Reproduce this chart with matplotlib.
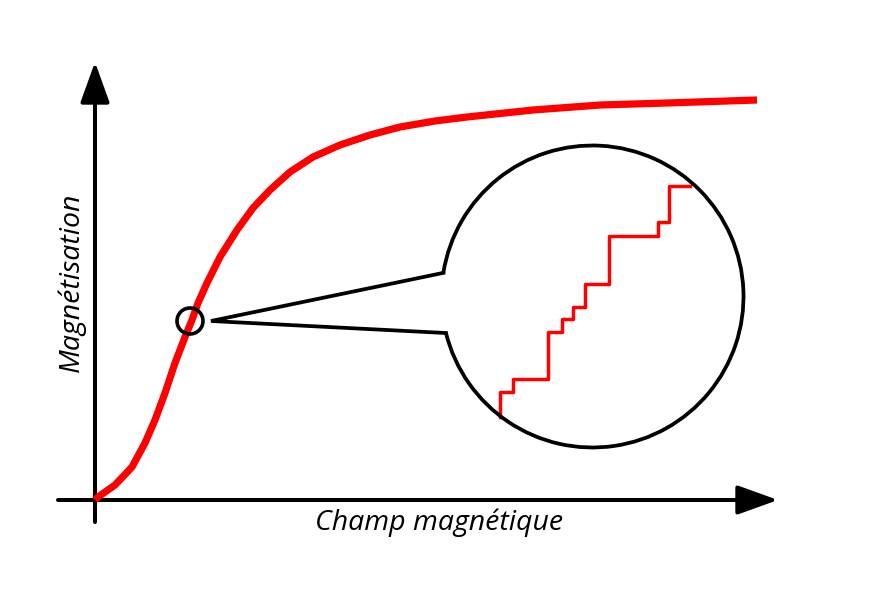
import numpy as np
import matplotlib.pyplot as plt
from matplotlib.patches import Arc, Circle

# Courbe d'aimantation (unités = pixels, origine au croisement des axes)
field = [0, 3, 20, 37, 50, 60, 70, 80, 90, 97, 103, 112, 125, 142, 158,
         175, 195, 218, 245, 275, 305, 340, 372, 438, 505, 572, 662]
magnet = [0, 3, 15, 33, 57, 80, 107, 137, 163, 180, 197, 217, 243, 270, 292,
          310, 328, 343, 355, 365, 373, 379, 383, 390, 395, 397, 400]

# Marches de Barkhausen dans la loupe
step_x = [405, 405, 418, 418, 453, 453, 467, 467, 478, 478, 490, 490, 514, 514, 563, 563, 574, 574, 595]
step_y = [83, 108, 108, 121, 121, 168, 168, 181, 181, 193, 193, 216, 216, 264, 264, 278, 278, 314, 314]

# Loupe
spot = (95, 179)
spot_r = 13
lens = (497.5, 203.5)
lens_r = 151
lens_gap = (171, 194)
apex = (116, 179)

x_axis = (-37, 683)
y_axis = (-22, 438)

x_label = "Champ magnétique"
y_label = "Magnétisation"

fig = plt.figure(figsize=(8.84, 5.99), dpi=100)
ax = fig.add_axes([0, 0, 1, 1])
ax.set_xlim(-95, 789)
ax.set_ylim(-99, 500)
ax.axis("off")

# Axes avec flèches
arrow = dict(arrowstyle="-|>,head_length=1.25,head_width=0.45", lw=2.9,
             color="black", shrinkA=0, shrinkB=0, mutation_scale=20)
ax.annotate("", xy=(x_axis[1], 0), xytext=(x_axis[0], 0), arrowprops=arrow)
ax.annotate("", xy=(0, y_axis[1]), xytext=(0, y_axis[0]), arrowprops=arrow)

# Courbe
ax.plot(field, magnet, color="red", lw=5.2, solid_capstyle="butt",
        solid_joinstyle="round", zorder=3)

# Petit cercle
ax.add_patch(Circle(spot, spot_r, fill=False, ec="black", lw=2.6, zorder=4))

# Grand cercle avec ouverture
ax.add_patch(Arc(lens, 2 * lens_r, 2 * lens_r, theta1=lens_gap[1] - 360,
                 theta2=lens_gap[0], color="black", lw=2.7, zorder=4))
t1 = np.deg2rad(lens_gap[0])
t2 = np.deg2rad(lens_gap[1])
p1 = (lens[0] + lens_r * np.cos(t1), lens[1] + lens_r * np.sin(t1))
p2 = (lens[0] + lens_r * np.cos(t2), lens[1] + lens_r * np.sin(t2))
ax.plot([p1[0], apex[0], p2[0]], [p1[1], apex[1], p2[1]], color="black",
        lw=2.7, solid_joinstyle="miter", zorder=4)

# Escalier
ax.plot(step_x, step_y, color="red", lw=2.5, zorder=3)

ax.text(344, -23, x_label, fontsize=20.5, style="italic", family="Open Sans",
        ha="center", va="center")
ax.text(-23, 218, y_label, fontsize=20.5, style="italic", family="Open Sans",
        ha="center", va="center", rotation=90)

fig.savefig("out.png", dpi=100)
